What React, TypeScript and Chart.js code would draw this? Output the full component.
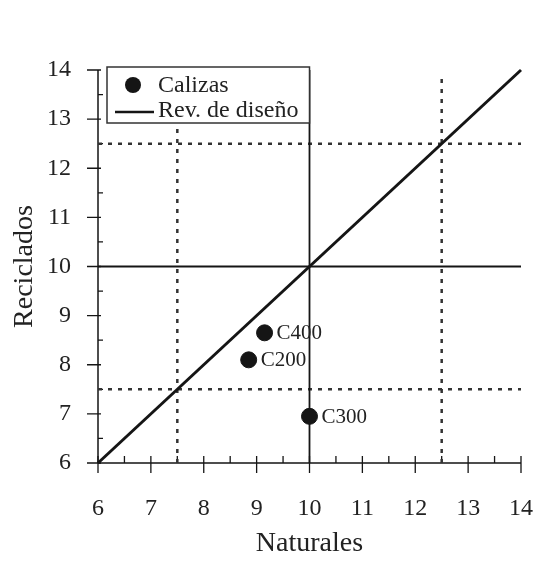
import React, { useEffect, useRef } from "react";
import { Chart, registerables } from "chart.js";
Chart.register(...registerables);

// ---- data ----
const pointNames = ["C400", "C200", "C300"];
const naturales = [9.15, 8.85, 10.0];
const reciclados = [8.65, 8.1, 6.95];
const axisMin = 6;
const axisMax = 14;
const designX = [6, 14];
const designY = [6, 14];
const solidRef = 10;
const dottedRefs = [7.5, 12.5];
const dottedVerticalTops = [14, 13.85];
const legendLabels = ["Calizas", "Rev. de diseño"];
const xTitle = "Naturales";
const yTitle = "Reciclados";

const SERIF = "'Liberation Serif', 'Times New Roman', serif";
const INK = "#151515";
const TEXT = "#222";

const axesPlugin = {
  id: "customAxes",
  beforeDatasetsDraw(chart: any) {
    const { ctx, chartArea: ca, scales } = chart;
    const xs = scales.x;
    const ys = scales.y;
    ctx.save();
    ctx.strokeStyle = INK;
    ctx.lineWidth = 1.5;
    ctx.beginPath();
    ctx.moveTo(ca.left, ca.bottom);
    ctx.lineTo(ca.right, ca.bottom);
    ctx.moveTo(ca.left, ca.bottom);
    ctx.lineTo(ca.left, ca.top);
    ctx.stroke();
    ctx.lineWidth = 1.3;
    ctx.beginPath();
    for (let v = axisMin; v <= axisMax + 1e-9; v += 0.5) {
      const major = Math.abs(v - Math.round(v)) < 1e-9;
      const px = xs.getPixelForValue(v);
      const py = ys.getPixelForValue(v);
      if (major) {
        ctx.moveTo(px, ca.bottom + 10);
        ctx.lineTo(px, ca.bottom - 7);
        ctx.moveTo(ca.left - 11, py);
        ctx.lineTo(ca.left + 3, py);
      } else {
        ctx.moveTo(px, ca.bottom);
        ctx.lineTo(px, ca.bottom - 7);
        ctx.moveTo(ca.left, py);
        ctx.lineTo(ca.left + 5, py);
      }
    }
    ctx.stroke();
    ctx.restore();
  },
};

const labelsPlugin = {
  id: "pointNames",
  afterDatasetsDraw(chart: any) {
    const { ctx } = chart;
    const meta = chart.getDatasetMeta(0);
    ctx.save();
    ctx.fillStyle = TEXT;
    ctx.font = `21px ${SERIF}`;
    ctx.textAlign = "left";
    ctx.textBaseline = "middle";
    meta.data.forEach((el: any, i: number) => {
      ctx.fillText(pointNames[i], el.x + 12, el.y + 1);
    });
    ctx.restore();
  },
};

const legendPlugin = {
  id: "boxLegend",
  afterDatasetsDraw(chart: any) {
    const { ctx, chartArea: ca, scales } = chart;
    const left = ca.left + 9;
    const top = ca.top - 3;
    const right = scales.x.getPixelForValue(solidRef);
    const bottom = top + 56;
    ctx.save();
    ctx.fillStyle = "#fff";
    ctx.fillRect(left, top, right - left, bottom - top);
    ctx.strokeStyle = "#333";
    ctx.lineWidth = 1.5;
    ctx.strokeRect(left, top, right - left, bottom - top);
    // marker
    ctx.fillStyle = INK;
    ctx.beginPath();
    ctx.arc(left + 26, top + 18, 8, 0, Math.PI * 2);
    ctx.fill();
    // line sample
    ctx.strokeStyle = INK;
    ctx.lineWidth = 2.5;
    ctx.beginPath();
    ctx.moveTo(left + 8, top + 45);
    ctx.lineTo(left + 47, top + 45);
    ctx.stroke();
    ctx.fillStyle = TEXT;
    ctx.font = `24px ${SERIF}`;
    ctx.textAlign = "left";
    ctx.textBaseline = "middle";
    ctx.fillText(legendLabels[0], left + 51, top + 19);
    ctx.fillText(legendLabels[1], left + 51, top + 44);
    ctx.restore();
  },
};

function seg(x0: number, y0: number, x1: number, y1: number) {
  return [
    { x: x0, y: y0 },
    { x: x1, y: y1 },
  ];
}

export default function App() {
  const ref = useRef<HTMLCanvasElement>(null);
  useEffect(() => {
    if (!ref.current) return;
    const lineBase = {
      showLine: true,
      pointRadius: 0,
      fill: false,
      clip: false as any,
      borderColor: INK,
    };
    const dotted = {
      ...lineBase,
      borderColor: "#333",
      borderWidth: 2.5,
      borderDash: [4, 6],
      order: 3,
    };
    const datasets: any[] = [
      {
        label: legendLabels[0],
        data: naturales.map((x, i) => ({ x, y: reciclados[i] })),
        showLine: false,
        pointRadius: 8,
        pointBackgroundColor: INK,
        pointBorderColor: INK,
        backgroundColor: INK,
        borderColor: INK,
        clip: false,
        order: 0,
      },
      {
        ...lineBase,
        label: legendLabels[1],
        data: seg(designX[0], designY[0], designX[1], designY[1]),
        borderWidth: 3,
        order: 1,
      },
      {
        ...lineBase,
        data: seg(axisMin, solidRef, axisMax, solidRef),
        borderWidth: 1.8,
        order: 2,
      },
      {
        ...lineBase,
        data: seg(solidRef, axisMin, solidRef, axisMax),
        borderWidth: 1.8,
        order: 2,
      },
      ...dottedRefs.map((v) => ({
        ...dotted,
        data: seg(axisMin, v, axisMax, v),
      })),
      ...dottedRefs.map((v, i) => ({
        ...dotted,
        data: seg(v, axisMin, v, dottedVerticalTops[i]),
      })),
    ];
    const chart = new Chart(ref.current, {
      type: "scatter",
      data: { datasets },
      options: {
        animation: false,
        responsive: false,
        devicePixelRatio: 1,
        events: [],
        layout: { padding: { top: 70, right: 27, left: 0, bottom: 0 } },
        plugins: {
          legend: { display: false },
          tooltip: { enabled: false },
        },
        scales: {
          x: {
            type: "linear",
            min: axisMin,
            max: axisMax,
            ticks: {
              stepSize: 1,
              color: TEXT,
              font: { family: SERIF, size: 24 },
              padding: 31,
              maxRotation: 0,
            },
            grid: { display: false, drawTicks: false },
            border: { display: false },
            title: {
              display: true,
              text: xTitle,
              color: TEXT,
              font: { family: SERIF, size: 28 },
              padding: { top: 0, bottom: 7 },
            },
            afterFit(s: any) {
              s.height = 104;
              s.paddingLeft = 0;
              s.paddingRight = 0;
            },
          },
          y: {
            type: "linear",
            min: axisMin,
            max: axisMax,
            ticks: {
              stepSize: 1,
              color: TEXT,
              font: { family: SERIF, size: 24 },
              padding: 27,
            },
            grid: { display: false, drawTicks: false },
            border: { display: false },
            title: {
              display: true,
              text: yTitle,
              color: TEXT,
              font: { family: SERIF, size: 28 },
              padding: { top: 8, bottom: 0 },
            },
            afterFit(s: any) {
              s.width = 98;
              s.paddingTop = 0;
              s.paddingBottom = 0;
            },
          },
        },
      },
      plugins: [axesPlugin, labelsPlugin, legendPlugin],
    });
    return () => chart.destroy();
  }, []);
  return (
    <div style={{ position: "fixed", left: 0, top: 0, width: 548, height: 567, background: "#fff" }}>
      <canvas ref={ref} width={548} height={567} />
    </div>
  );
}
